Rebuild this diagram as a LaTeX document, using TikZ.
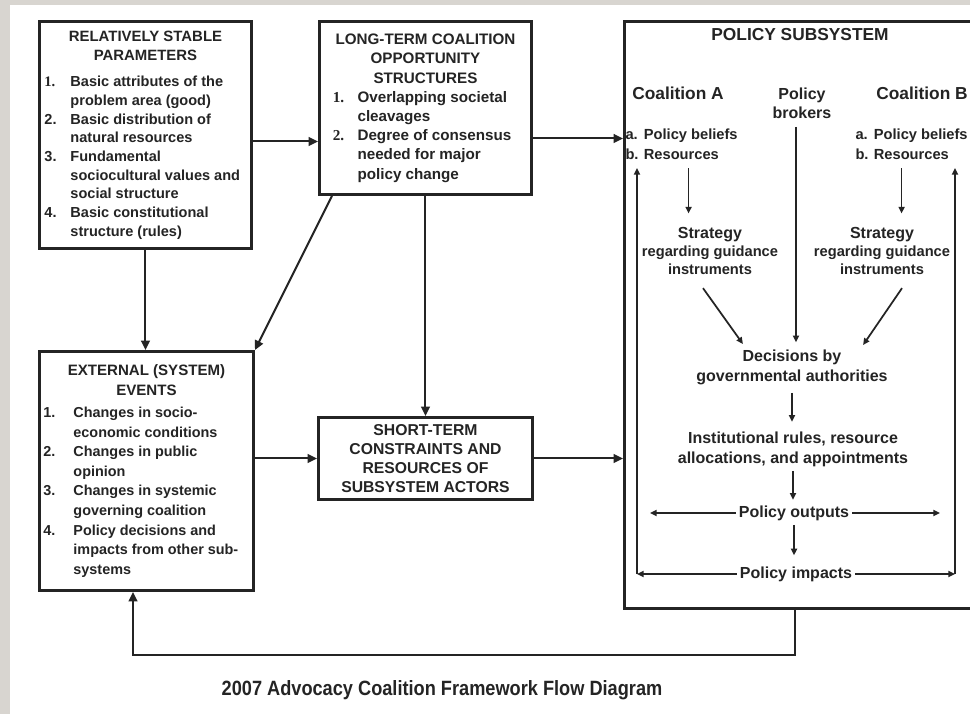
\documentclass[tikz,border=0pt]{standalone}
\usepackage{fontspec}
\setmainfont{Liberation Sans}
\newfontfamily\numfont{Liberation Serif}
\usetikzlibrary{arrows.meta,calc}

\definecolor{ink}{RGB}{36,36,36}
\definecolor{paper}{RGB}{216,213,208}

\tikzset{every picture/.style={line width=0.75pt}}
\tikzset{
	pbox/.style={draw=ink, line width=2.2pt, anchor=north west, inner sep=0pt, text=ink, align=center},
	lbl/.style={text=ink, inner sep=0pt, align=center},
	flow/.style={draw=ink, line width=1.5pt, -{Triangle[length=7pt,width=6.5pt]}},
	sub/.style={draw=ink, line width=1.3pt, -{Triangle[length=5pt,width=4.5pt]}}}

\begin{document}
\begin{tikzpicture}[x=0.75pt,y=0.75pt,yscale=-1,xscale=1,font=\bfseries]
	\useasboundingbox (0,0) rectangle (970,714);
	\fill[paper] (0,0) rectangle (970,714);
	\fill[white] (10,5) rectangle (970,714);

	%Box: stable parameters
	\node[pbox, minimum width=159pt, minimum height=170.25pt, font=\bfseries\fontsize{10.9}{14}\selectfont] (stable) at (38,20) {%
		\begin{tabular}{@{}p{19.5pt}@{}p{132pt}@{}}
			\multicolumn{2}{c}{\fontsize{11.2}{13}\selectfont RELATIVELY STABLE}\\
			\multicolumn{2}{c}{\fontsize{11.2}{13}\selectfont PARAMETERS}\\[6pt]
			{\numfont 1.} & Basic attributes of the\\
			 & problem area (good)\\
			2. & Basic distribution of\\
			 & natural resources\\
			3. & Fundamental\\
			 & sociocultural values and\\
			 & social structure\\
			4. & Basic constitutional\\
			 & structure (rules)
		\end{tabular}};
	%Box: long-term structures
	\node[pbox, minimum width=159pt, minimum height=129.75pt, font=\bfseries\fontsize{11.4}{14.4}\selectfont] (longterm) at (318,20) {%
		\begin{tabular}{@{}p{22.5pt}@{}l@{}}
			\multicolumn{2}{c}{LONG-TERM COALITION}\\
			\multicolumn{2}{c}{OPPORTUNITY}\\
			\multicolumn{2}{c}{STRUCTURES}\\
			\hspace*{4pt}{\numfont 1.} & Overlapping societal\\
			 & cleavages\\
			\hspace*{4pt}{\numfont 2.} & Degree of consensus\\
			 & needed for major\\
			 & policy change
		\end{tabular}};
	%Box: external events
	\node[pbox, minimum width=160.5pt, minimum height=179.25pt, font=\bfseries\fontsize{10.8}{14.7}\selectfont] (events) at (38,350) {%
		\begin{tabular}{@{}p{22.5pt}@{}p{132pt}@{}}
			\multicolumn{2}{c}{\fontsize{11.3}{13}\selectfont EXTERNAL (SYSTEM)}\\
			\multicolumn{2}{c}{\fontsize{11.3}{13}\selectfont EVENTS}\\[2pt]
			1. & Changes in socio-\\
			 & economic conditions\\
			2. & Changes in public\\
			 & opinion\\
			3. & Changes in systemic\\
			 & governing coalition\\
			4. & Policy decisions and\\
			 & impacts from other sub-\\
			 & systems
		\end{tabular}};
	%Box: short-term constraints
	\node[pbox, minimum width=160.5pt, minimum height=61.5pt, font=\bfseries\fontsize{11.8}{14.3}\selectfont] (shortterm) at (317,416) {SHORT-TERM\\CONSTRAINTS AND\\RESOURCES OF\\SUBSYSTEM ACTORS};
	%Box: policy subsystem
	\node[pbox, minimum width=271.5pt, minimum height=440.25pt] (subsys) at (623,20) {};

	% Text Nodes in subsystem
	\node[lbl, font=\bfseries\fontsize{13}{15}\selectfont] (subtitle) at (800,35) {POLICY SUBSYSTEM};
	\node[lbl, font=\bfseries\fontsize{13}{15}\selectfont] (coalA) at (678,93) {Coalition A};
	\node[lbl, font=\bfseries\fontsize{12}{14.3}\selectfont] (brokers) at (802,103) {Policy\\brokers};
	\node[lbl, font=\bfseries\fontsize{13}{15}\selectfont] (coalB) at (922,93) {Coalition B};
	\node[lbl, anchor=west, font=\bfseries\fontsize{11}{15}\selectfont] (resA) at (625,145) {%
		\begin{tabular}{@{}l@{\hspace{4pt}}l@{}}a. & Policy beliefs\\ b. & Resources\end{tabular}};
	\node[lbl, anchor=west, font=\bfseries\fontsize{11}{15}\selectfont] (resB) at (855,145) {%
		\begin{tabular}{@{}l@{\hspace{4pt}}l@{}}a. & Policy beliefs\\ b. & Resources\end{tabular}};
	\node[lbl, font=\bfseries\fontsize{11}{13.5}\selectfont] (stratA) at (710,251) {{\fontsize{12}{13.5}\selectfont Strategy}\\regarding guidance\\instruments};
	\node[lbl, font=\bfseries\fontsize{11}{13.5}\selectfont] (stratB) at (882,251) {{\fontsize{12}{13.5}\selectfont Strategy}\\regarding guidance\\instruments};
	\node[lbl, font=\bfseries\fontsize{12}{15}\selectfont] (decide) at (792,367) {Decisions by\\governmental authorities};
	\node[lbl, font=\bfseries\fontsize{12}{15}\selectfont] (rules) at (793,449) {Institutional rules, resource\\allocations, and appointments};
	\node[lbl, font=\bfseries\fontsize{12}{15}\selectfont] (outputs) at (794,513) {Policy outputs};
	\node[lbl, font=\bfseries\fontsize{12}{15}\selectfont] (impacts) at (796,574) {Policy impacts};

	\coordinate (outL) at (650,513);
	\coordinate (outR) at (940,513);
	\coordinate (impL) at (637,574);
	\coordinate (impR) at (955,574);
	\coordinate (impLtop) at (637,168);
	\coordinate (impRtop) at (955,168);

	% Connectors between boxes
	\coordinate (s1) at ($(stable.east)+(0,6.5)$);
	\draw[flow] (s1) -- (s1 -| longterm.west);
	\coordinate (s2) at ($(longterm.east)+(0,30.5)$);
	\draw[flow] (s2) -- (s2 -| subsys.west);
	\draw[flow] (stable.south) -- (stable.south |- events.north);
	\draw[flow] ($(longterm.south west)+(14,0)$) -- (events.north east);
	\draw[flow] (longterm.south) -- (shortterm.north);
	\draw[flow] (shortterm.west -| events.east) -- (shortterm.west);
	\draw[flow] (shortterm.east) -- (shortterm.east -| subsys.west);
	\coordinate (fbR) at (795,655);
	\coordinate (fbL) at (133,655);
	\draw[flow] (fbR |- subsys.south) -- (fbR) -- (fbL) -- (fbL |- events.south);

	% Connectors in subsystem
	\coordinate (aA) at ($(resA.south)+(7,0)$);
	\draw[sub, shorten <=2pt, shorten >=10pt] (aA) -- (aA |- stratA.north);
	\coordinate (aB) at ($(resB.south)+(-10,0)$);
	\draw[sub, shorten <=2pt, shorten >=10pt] (aB) -- (aB |- stratB.north);
	\coordinate (bk) at ($(brokers.south)+(-6,0)$);
	\draw[sub, shorten <=6pt, shorten >=5pt] (bk) -- (bk |- decide.north);
	\draw[sub] ($(stratA.south)+(-7,13)$) -- ($(decide.north west)+(47,-5)$);
	\draw[sub] ($(stratB.south)+(20,13)$) -- ($(decide.north east)+(-25,-4)$);
	\draw[sub, shorten <=6pt, shorten >=7pt] (decide.south) -- (decide.south |- rules.north);
	\draw[sub, shorten <=3pt, shorten >=4pt] (rules.south) -- (rules.south |- outputs.north);
	\draw[sub, shorten <=3pt, shorten >=8pt] (outputs.south) -- (outputs.south |- impacts.north);
	\draw[sub, shorten <=2pt] (outputs.west) -- (outL);
	\draw[sub, shorten <=2pt] (outputs.east) -- (outR);
	\draw[sub, shorten <=2pt] (impacts.west) -- (impL);
	\draw[sub, shorten <=2pt] (impacts.east) -- (impR);
	\draw[sub] (impL) -- (impLtop);
	\draw[sub] (impR) -- (impRtop);

	% Caption
	\node[lbl, font=\bfseries\fontsize{15.5}{18}\selectfont] (caption) at (442,690) {\scalebox{0.88}[1]{2007 Advocacy Coalition Framework Flow Diagram}};
\end{tikzpicture}
\end{document}
